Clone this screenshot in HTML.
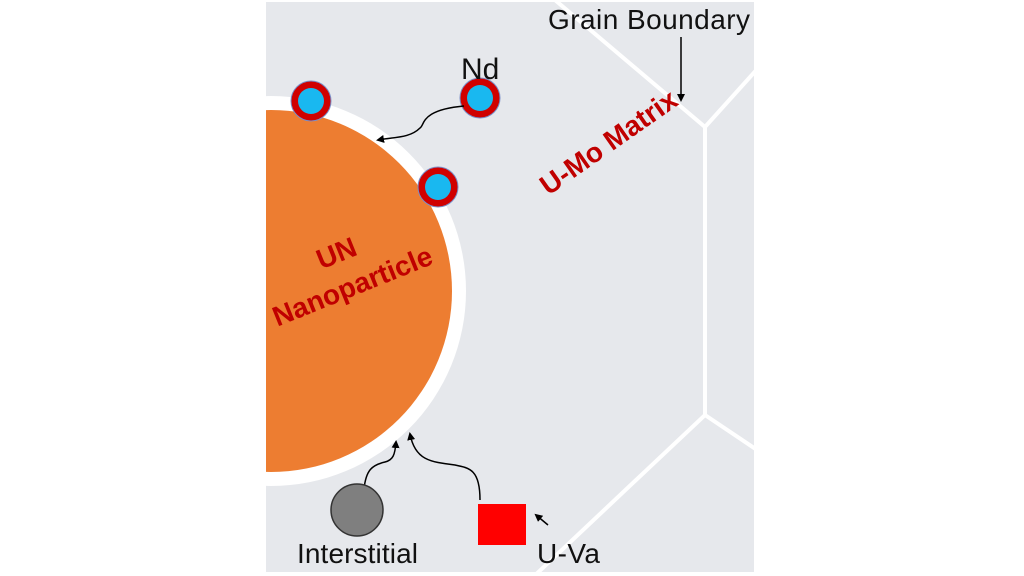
<!DOCTYPE html>
<html><head><style>html,body{margin:0;padding:0;background:#fff;width:1024px;height:576px;overflow:hidden}</style></head>
<body>
<svg width="1024" height="576" viewBox="0 0 1024 576" xmlns="http://www.w3.org/2000/svg" font-family="Liberation Sans, Arial, sans-serif">
<defs>
<clipPath id="c"><rect x="266" y="2" width="488" height="570"/></clipPath>
<marker id="a" markerWidth="8" markerHeight="8" refX="6" refY="4" orient="auto" markerUnits="userSpaceOnUse"><path d="M0,0 L8,4 L0,8 z" fill="#000"/></marker>
</defs>
<rect x="266" y="2" width="488" height="570" fill="#e6e8ec"/>
<g clip-path="url(#c)">
<g stroke="#fff" stroke-width="4" fill="none">
<path d="M555,0 L705,127 L760,66"/>
<path d="M705,127 L705,415"/>
<path d="M530,580 L705,415 L760,452"/>
</g>
<circle cx="271" cy="291" r="195" fill="#fff"/>
<circle cx="271" cy="291" r="181" fill="#ed7d31"/>
</g>
<g stroke="#7a8fc8" stroke-width="1">
<circle cx="311" cy="101" r="20" fill="#d00000"/>
<circle cx="480" cy="98" r="20" fill="#d00000"/>
<circle cx="438" cy="187" r="20" fill="#d00000"/>
</g>
<g fill="#19b8f0">
<circle cx="311" cy="101" r="13"/>
<circle cx="480" cy="98" r="13"/>
<circle cx="438" cy="187" r="13"/>
</g>
<g stroke="#000" stroke-width="1.5" fill="none">
<path d="M464,106 C420,110 425,125 420,128 C410,138 395,137 378,140" marker-end="url(#a)"/>
<path d="M681,37 L681,100" marker-end="url(#a)"/>
<path d="M364,489 C366,470 372,465 385,462 C393,460 395,455 396,442" marker-end="url(#a)"/>
<path d="M480,500 C480,470 470,468 455,465 C430,462 415,460 410,434" marker-end="url(#a)"/>
<path d="M548,525 L536,515" marker-end="url(#a)"/>
</g>
<circle cx="357" cy="510" r="26" fill="#7f7f7f" stroke="#333" stroke-width="1.5"/>
<rect x="478" y="504" width="48" height="41" fill="#ff0000"/>
<text x="548" y="29" font-size="28" fill="#111" textLength="202">Grain Boundary</text>
<text x="461" y="79" font-size="30" fill="#111">Nd</text>
<text x="297" y="563" font-size="28" fill="#111" textLength="121">Interstitial</text>
<text x="537" y="563" font-size="28" fill="#111" textLength="63">U-Va</text>
<g font-weight="bold" fill="#c00000" font-size="28" text-anchor="middle">
<text transform="translate(614,150) rotate(-35)">U-Mo Matrix</text>
<text transform="translate(340,262) rotate(-22)">UN</text>
<text transform="translate(356,295) rotate(-22)">Nanoparticle</text>
</g>
</svg>
</body></html>
